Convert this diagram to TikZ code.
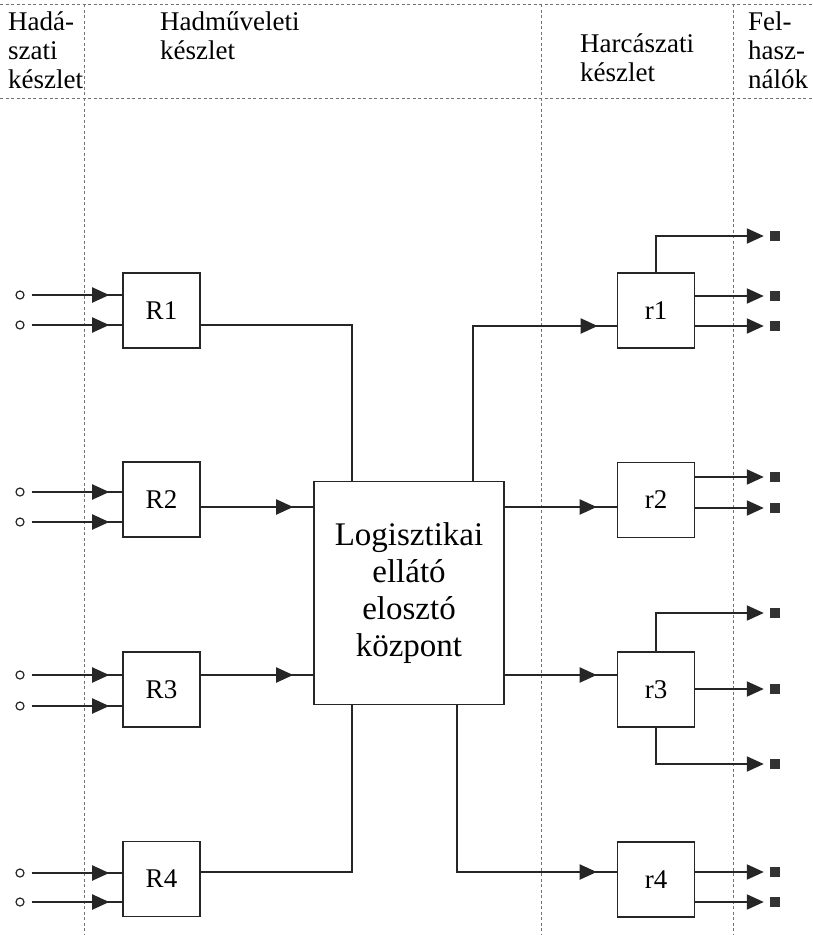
\documentclass[tikz,border=0pt]{standalone}
\usepackage{fontspec}
\setmainfont{Liberation Serif}
\usetikzlibrary{arrows.meta,decorations.markings,positioning}

\begin{document}
\begin{tikzpicture}
[x=1pt,y=-1pt,
 box/.style={draw=black!85,line width=1.6pt,fill=white,minimum width=77pt,minimum height=75pt,inner sep=0pt,font=\fontsize{27}{30}\selectfont},
 hub/.style={draw=black!85,line width=1.6pt,fill=white,minimum width=190pt,minimum height=223pt,inner sep=0pt,align=center,font=\fontsize{33}{37}\selectfont},
 src/.style={circle,draw=black!85,line width=1.2pt,inner sep=0pt,minimum size=8pt},
 dst/.style={rectangle,fill=black!80,inner sep=0pt,minimum size=10pt},
 conn/.style={line width=2pt,draw=black!85},
 tipat/.style={postaction={decorate},decoration={markings,mark=at position #1 with {\arrow{Triangle[length=17pt,width=15pt]}}}},
 outarrow/.style={conn,-{Triangle[length=17pt,width=15pt]},shorten >=6pt},
 divider/.style={black!55,line width=0.7pt,dash pattern=on 3pt off 2.5pt},
 headtxt/.style={anchor=north west,inner sep=0pt,align=left,font=\fontsize{27}{29}\selectfont}]
\useasboundingbox (0,0) rectangle (812,935);

% keretvonalak
\draw[divider] (0,4) -- (812,4);
\draw[divider] (0,98) -- (812,98);
\foreach \x in {84,541,733} \draw[divider] (\x,4) -- (\x,935);

\node[headtxt] (h1) at (8,12) {Hadá-\\szati\\készlet};
\node[headtxt] (h2) at (160,12) {Hadműveleti\\készlet};
\node[headtxt] (h3) at (580,34) {Harcászati\\készlet};
\node[headtxt] (h4) at (748,12) {Fel-\\hasz-\\nálók};

\node[hub] (L) at (409,593) {Logisztikai\\ellátó\\elosztó\\központ};

\node[box] (R1) at (161.5,310.5) {R1};
\node[box] (R2) at (161.5,499.5) {R2};
\node[box] (R3) at (161.5,689.5) {R3};
\node[box] (R4) at (161.5,879) {R4};
\node[box] (r1) at (656,310.5) {r1};
\node[box] (r2) at (656,500) {r2};
\node[box] (r3) at (656,689.5) {r3};
\node[box] (r4) at (656,879.5) {r4};

\node[src] (i11) at (20,295) {};
\node[src] (i12) at (20,325) {};
\node[src] (i21) at (20,492) {};
\node[src] (i22) at (20,522) {};
\node[src] (i31) at (20,675) {};
\node[src] (i32) at (20,706) {};
\node[src] (i41) at (20,873) {};
\node[src] (i42) at (20,902) {};

\node[dst] (o11) at (775,236) {};
\node[dst] (o12) at (775,296) {};
\node[dst] (o13) at (775,326) {};
\node[dst] (o21) at (775,477) {};
\node[dst] (o22) at (775,508) {};
\node[dst] (o31) at (775,613) {};
\node[dst] (o32) at (775,689) {};
\node[dst] (o33) at (775,764) {};
\node[dst] (o41) at (775,872) {};
\node[dst] (o42) at (775,902) {};

\coordinate (k1) at (352,325);
\coordinate (k2) at (0,507);
\coordinate (k3) at (0,675);
\coordinate (k4) at (352,872);
\coordinate (m1) at (473,326);
\coordinate (m4) at (457,872);

% bemenetek
\draw[conn,tipat=-13pt,shorten <=7pt] (i11) -- (i11 -| R1.west);
\draw[conn,tipat=-13pt,shorten <=7pt] (i12) -- (i12 -| R1.west);
\draw[conn,tipat=-13pt,shorten <=7pt] (i21) -- (i21 -| R2.west);
\draw[conn,tipat=-13pt,shorten <=7pt] (i22) -- (i22 -| R2.west);
\draw[conn,tipat=-13pt,shorten <=7pt] (i31) -- (i31 -| R3.west);
\draw[conn,tipat=-13pt,shorten <=7pt] (i32) -- (i32 -| R3.west);
\draw[conn,tipat=-13pt,shorten <=7pt] (i41) -- (i41 -| R4.west);
\draw[conn,tipat=-13pt,shorten <=7pt] (i42) -- (i42 -| R4.west);

% kozpont
\draw[conn] (R1.east |- k1) -- (k1) -- (k1 |- L.north);
\draw[conn,tipat=-20pt] (R2.east |- k2) -- (L.west |- k2);
\draw[conn,tipat=-20pt] (R3.east |- k3) -- (L.west |- k3);
\draw[conn] (R4.east |- k4) -- (k4) -- (k4 |- L.south);
\draw[conn,tipat=-19pt] (m1 |- L.north) -- (m1) -- (r1.west |- m1);
\draw[conn,tipat=-20pt] (L.east |- k2) -- (r2.west |- k2);
\draw[conn,tipat=-20pt] (L.east |- k3) -- (r3.west |- k3);
\draw[conn,tipat=-20pt] (m4 |- L.south) -- (m4) -- (r4.west |- m4);

% kimenetek
\draw[outarrow] (r1.north) -- (r1.north |- o11) -- (o11);
\draw[outarrow] (r1.east |- o12) -- (o12);
\draw[outarrow] (r1.east |- o13) -- (o13);
\draw[outarrow] (r2.east |- o21) -- (o21);
\draw[outarrow] (r2.east |- o22) -- (o22);
\draw[outarrow] (r3.north) -- (r3.north |- o31) -- (o31);
\draw[outarrow] (r3.east |- o32) -- (o32);
\draw[outarrow] (r3.south) -- (r3.south |- o33) -- (o33);
\draw[outarrow] (r4.east |- o41) -- (o41);
\draw[outarrow] (r4.east |- o42) -- (o42);
\end{tikzpicture}
\end{document}
